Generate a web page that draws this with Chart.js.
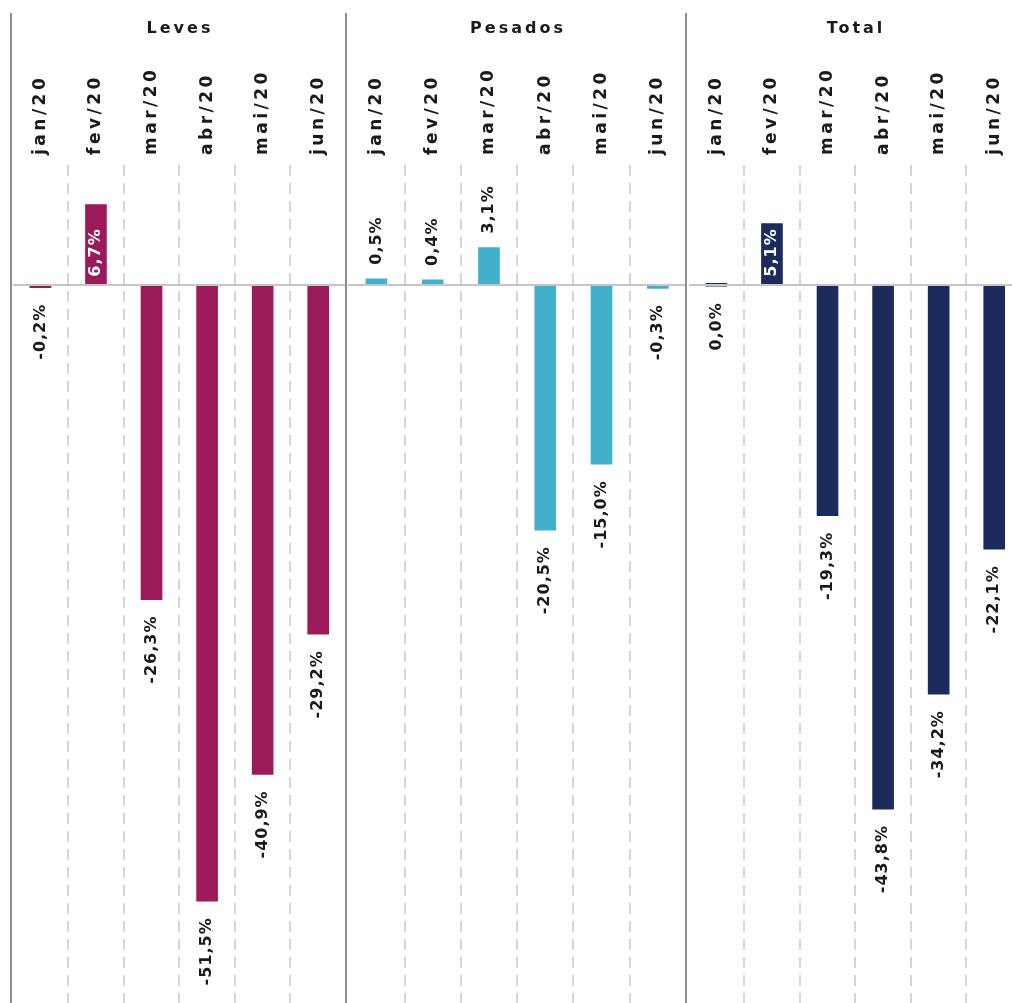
<!DOCTYPE html>
<html>
<head>
<meta charset="utf-8">
<script src="https://cdn.jsdelivr.net/npm/chart.js@4.4.1/dist/chart.umd.min.js"></script>
<style>
  body { margin: 0; background: #fff; overflow: hidden; }
  #wrap { position: relative; width: 1012px; height: 1003px; overflow: hidden; }
  .panel { position: absolute; top: 0; height: 1003px; }
  .sep { position: absolute; top: 13px; bottom: 0; width: 2px; background: #8e8e8e; }
  .title {
    position: absolute; top: 18px; height: 20px; line-height: 20px; text-align: center;
    font: bold 16px "DejaVu Sans"; letter-spacing: 3px; color: #1a1a1a;
  }
</style>
</head>
<body>
<div id="wrap">
  <div class="panel" style="left:10px;width:336px"><canvas id="c0" width="336" height="1003"></canvas></div>
  <div class="panel" style="left:346px;width:340px"><canvas id="c1" width="340" height="1003"></canvas></div>
  <div class="panel" style="left:686px;width:336px"><canvas id="c2" width="336" height="1003"></canvas></div>
  <div class="title" id="t0" style="left:12px;width:336px"></div>
  <div class="title" id="t1" style="left:348px;width:340px"></div>
  <div class="title" id="t2" style="left:688px;width:336px"></div>
  <div class="sep" style="left:10px"></div>
  <div class="sep" style="left:345px"></div>
  <div class="sep" style="left:685px"></div>
</div>
<script>
const months = ["jan/20", "fev/20", "mar/20", "abr/20", "mai/20", "jun/20"];
const groups = ["Leves", "Pesados", "Total"];
const leves = [-0.2, 6.7, -26.3, -51.5, -40.9, -29.2];
const pesados = [0.5, 0.4, 3.1, -20.5, -15.0, -0.3];
const total = [0.0, 5.1, -19.3, -43.8, -34.2, -22.1];

const colors = ["#9b1a5a", "#41b0c8", "#1d2b5c"];
const ink = "#1a1a1a";

// canvas letter spacing for the month labels (Chart.js has no option for it)
const spacing = {
  id: "spacing",
  beforeUpdate(chart) { chart.ctx.letterSpacing = "3.5px"; },
  beforeDraw(chart) { chart.ctx.letterSpacing = "3.5px"; }
};

// value labels, rotated, placed from the bar elements
const valueLabels = {
  id: "valueLabels",
  afterDatasetsDraw(chart) {
    const ctx = chart.ctx;
    const vals = chart.data.datasets[0].data;
    chart.getDatasetMeta(0).data.forEach((bar, i) => {
      const v = vals[i];
      const text = v.toFixed(1).replace(".", ",") + "%";
      ctx.save();
      ctx.font = 'bold 16px "DejaVu Sans"';
      ctx.letterSpacing = "1px";
      ctx.textBaseline = "middle";
      let y;
      if (v >= 4) {
        ctx.fillStyle = "#fff";
        ctx.textAlign = "left";
        y = bar.base - 7;
      } else if (v > 0) {
        ctx.fillStyle = ink;
        ctx.textAlign = "left";
        y = bar.y - 14;
      } else {
        ctx.fillStyle = ink;
        ctx.textAlign = "right";
        y = Math.max(bar.y, bar.base) + 16;
      }
      ctx.translate(bar.x, y);
      ctx.rotate(-Math.PI / 2);
      ctx.fillText(text, 0, 0);
      ctx.restore();
    });
  }
};

function makeChart(id, title, values, color) {
  document.getElementById("t" + id.slice(1)).textContent = title;
  return new Chart(document.getElementById(id), {
    type: "bar",
    data: {
      labels: months,
      datasets: [{ data: values, backgroundColor: color, barThickness: 21, minBarLength: 3 }]
    },
    options: {
      responsive: false,
      animation: false,
      layout: { padding: { top: 37 } },
      plugins: {
        legend: { display: false },
        tooltip: { enabled: false },
        title: { display: false }
      },
      scales: {
        x: {
          position: "top",
          offset: true,
          grid: {
            offset: true,
            drawTicks: false,
            lineWidth: 2,
            // no dashed line on the panel edges, the separators sit there
            color: c => (c.type === "tick" && c.index > 0 ? "#d6d6d6" : "rgba(0,0,0,0)")
          },
          border: { display: false, dash: [11, 7] },
          ticks: {
            minRotation: 90,
            maxRotation: 90,
            padding: 10,
            labelOffset: 20.4,
            color: ink,
            font: { family: "DejaVu Sans", size: 17, weight: "bold" }
          },
          afterFit: s => { s.height = 128; }
        },
        y: {
          min: -60,
          max: 10,
          ticks: { display: false, stepSize: 10 },
          grid: {
            drawTicks: false,
            z: 1,
            lineWidth: 2,
            color: c => (c.tick && c.tick.value === 0 ? "#c6c6c6" : "rgba(0,0,0,0)")
          },
          border: { display: false },
          afterFit: s => { s.width = 0; }
        }
      }
    },
    plugins: [spacing, valueLabels]
  });
}

makeChart("c0", groups[0], leves, colors[0]);
makeChart("c1", groups[1], pesados, colors[1]);
makeChart("c2", groups[2], total, colors[2]);
</script>
</body>
</html>
